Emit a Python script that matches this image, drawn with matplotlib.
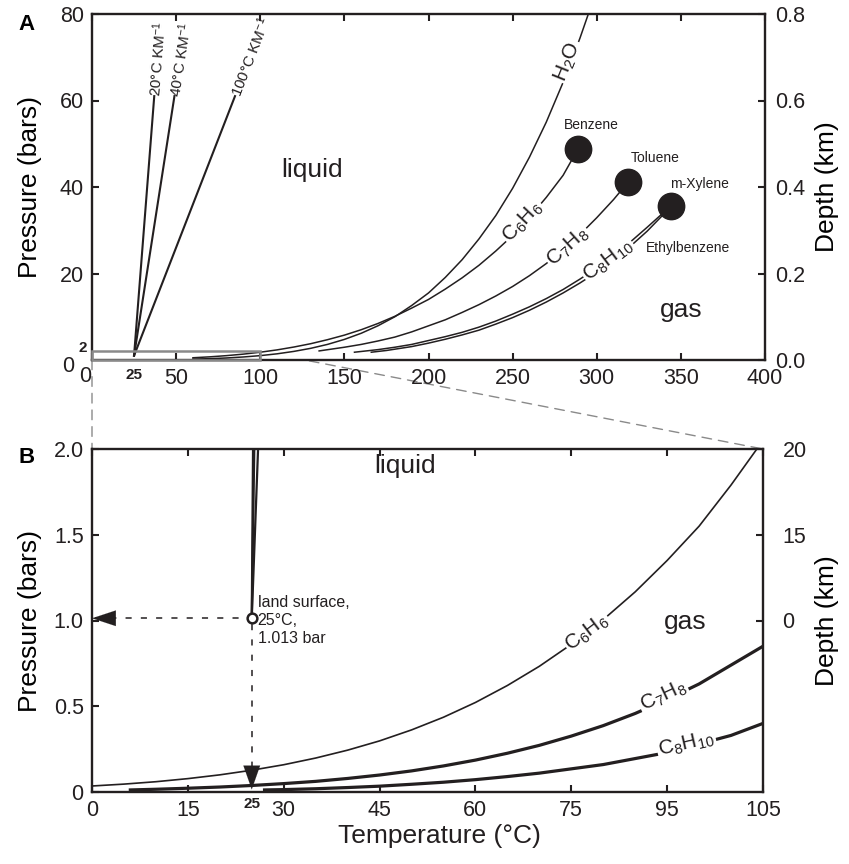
import matplotlib
matplotlib.use("Agg")
import matplotlib.pyplot as plt
from matplotlib.patches import Rectangle, ConnectionPatch
import numpy as np

plt.rcParams['font.family'] = ['Liberation Sans', 'DejaVu Sans']
plt.rcParams['mathtext.fontset'] = 'custom'
plt.rcParams['mathtext.rm'] = 'Liberation Sans'
plt.rcParams['mathtext.it'] = 'Liberation Sans:italic'
plt.rcParams['mathtext.default'] = 'regular'

INK = '#231f20'
GREY = '#8a8a8a'

# ---------------- vapour-pressure curves, full range (deg C, bar) ----------------
h2o_T = [60, 70, 80, 90, 100, 110, 120, 130, 140, 150, 160, 170, 180, 190, 200,
         210, 220, 230, 240, 250, 260, 270, 280, 290, 295]
h2o_P = [0.20, 0.31, 0.47, 0.70, 1.01, 1.43, 1.99, 2.70, 3.61, 4.76, 6.18, 7.92,
         10.0, 12.6, 15.5, 19.1, 23.2, 28.0, 33.4, 39.7, 46.9, 55.0, 64.2, 74.4, 80.0]

benz_T = [60, 70, 80, 90, 100, 110, 120, 130, 140, 150, 160, 170, 180, 190, 200,
          210, 220, 230, 240, 250, 260, 270, 280, 289]
benz_P = [0.52, 0.73, 1.01, 1.36, 1.80, 2.34, 3.0, 3.77, 4.7, 5.75, 7.0, 8.45,
          10.1, 12.0, 14.0, 16.4, 19.0, 21.9, 25.2, 28.8, 33.0, 37.6, 42.7, 48.9]

tol_T = [135, 150, 160, 170, 180, 190, 200, 210, 220, 230, 240, 250, 260, 270,
         280, 290, 300, 310, 318.6]
tol_P = [2.1, 2.95, 3.6, 4.4, 5.3, 6.5, 7.9, 9.3, 11.0, 12.8, 14.8, 17.0, 19.5,
         22.3, 25.4, 29.0, 32.9, 37.1, 41.1]

ebenz_T = [156, 170, 180, 190, 200, 210, 220, 230, 240, 250, 260, 270, 280, 290,
           300, 310, 320, 330, 344]
ebenz_P = [1.8, 2.4, 2.95, 3.6, 4.5, 5.4, 6.4, 7.6, 9.0, 10.6, 12.3, 14.2, 16.3,
           18.7, 21.3, 24.2, 27.3, 30.7, 35.6]

mxyl_T = [166, 175, 180, 190, 200, 210, 220, 230, 240, 250, 260, 270, 280, 290,
          300, 310, 320, 330, 344]
mxyl_P = [1.8, 2.2, 2.5, 3.1, 3.9, 4.8, 5.8, 6.9, 8.3, 9.8, 11.5, 13.4, 15.5,
          17.8, 20.3, 23.1, 26.3, 29.8, 35.4]

# critical points
crit_names = ['Benzene', 'Toluene', 'm-Xylene']
crit_T = [289, 318.6, 344]
crit_P = [48.9, 41.1, 35.5]

# geothermal gradients (deg C per km) starting from the land surface
geo_rates = [20, 40, 100]
geo_labels = [r'20°C KM$^{-1}$', r'40°C KM$^{-1}$', r'100°C KM$^{-1}$']
surf_T = 25
surf_P = 1.013
geo_top_depth_km = 0.6       # depth reached in panel A
geo_top_depth_B_km = 0.01    # depth reached in panel B

# ---------------- low-temperature detail (deg C, bar) ----------------
b_benz_T = [0, 5, 10, 15, 20, 25, 30, 35, 40, 45, 50, 55, 60, 65, 70, 75, 80,
            85, 90, 95, 100, 105]
b_benz_P = [0.035, 0.046, 0.060, 0.078, 0.100, 0.127, 0.159, 0.198, 0.244, 0.298,
            0.362, 0.436, 0.522, 0.621, 0.733, 0.861, 1.005, 1.167, 1.35, 1.55,
            1.79, 2.05]

b_tol_T = [6, 10, 15, 20, 25, 30, 35, 40, 45, 50, 55, 60, 65, 70, 75, 80, 85, 90,
           95, 100, 105]
b_tol_P = [0.012, 0.016, 0.022, 0.029, 0.038, 0.049, 0.062, 0.079, 0.099, 0.123,
           0.152, 0.186, 0.226, 0.272, 0.326, 0.387, 0.458, 0.54, 0.63, 0.74, 0.85]

b_xyl_T = [27, 30, 35, 40, 45, 50, 55, 60, 65, 70, 75, 80, 85, 90, 95, 100, 105]
b_xyl_P = [0.012, 0.014, 0.019, 0.026, 0.034, 0.045, 0.057, 0.072, 0.090, 0.11,
           0.135, 0.16, 0.195, 0.23, 0.28, 0.33, 0.40]

# axis ticks
a_xticks = [0, 50, 100, 150, 200, 250, 300, 350, 400]
a_yticks = [20, 40, 60, 80]
a_depth_ticks = [0.0, 0.2, 0.4, 0.6, 0.8]
b_xticks = [0, 15, 30, 45, 60, 75, 90, 105]
b_xticklabels = ['0', '15', '30', '45', '60', '75', '95', '105']
b_yticks = [0, 0.5, 1.0, 1.5, 2.0]
b_yticklabels = ['0', '0.5', '1.0', '1.5', '2.0']
b_depth_ticks = [1.0, 1.5, 2.0]
b_depth_labels = ['0', '15', '20']

TICK_FS = 15.5
LABEL_FS = 19

fig = plt.figure(figsize=(8.49, 8.64), dpi=100)
W, H = 849, 864


def px_axes(left, top, right, bottom):
    return [left / W, 1 - bottom / H, (right - left) / W, (bottom - top) / H]


ax1 = fig.add_axes(px_axes(92, 14, 765, 360))
ax2 = fig.add_axes(px_axes(92, 449, 763, 792))


def style_axes(ax):
    for s in ax.spines.values():
        s.set_linewidth(1.7)
        s.set_color(INK)
    ax.tick_params(direction='in', length=5, width=1.5, labelsize=TICK_FS,
                   colors=INK, pad=6, top=True)


# ================= panel A =================
style_axes(ax1)
ax1.set_xlim(0, 400)
ax1.set_ylim(0, 80)
ax1.set_xticks(a_xticks)
ax1.set_xticklabels(['' if t == 0 else str(t) for t in a_xticks])
ax1.set_yticks(a_yticks)
ax1.set_ylabel('Pressure (bars)', fontsize=LABEL_FS)
ax1.yaxis.set_label_coords(-0.074, 0.5)

lw_thin = 1.1
ax1.plot(h2o_T, h2o_P, color=INK, lw=lw_thin)
ax1.plot(benz_T, benz_P, color=INK, lw=lw_thin)
ax1.plot(tol_T, tol_P, color=INK, lw=lw_thin)
ax1.plot(ebenz_T, ebenz_P, color=INK, lw=lw_thin)
ax1.plot(mxyl_T, mxyl_P, color=INK, lw=lw_thin)
ax1.plot(crit_T, crit_P, 'o', color=INK, ms=19, zorder=6)

for rate, lab in zip(geo_rates, geo_labels):
    t_end = surf_T + rate * geo_top_depth_km
    p_end = surf_P + geo_top_depth_km * 100
    ax1.plot([surf_T, t_end], [surf_P, p_end], color=INK, lw=1.5)
    dx = (t_end - surf_T) * 673 / 400
    dy = (p_end - surf_P) * 346 / 80
    ang = np.degrees(np.arctan2(dy, dx))
    ax1.text(t_end, p_end, lab, rotation=ang, rotation_mode='anchor',
             ha='left', va='center', fontsize=11, color=INK)

bbox_w = dict(facecolor='white', edgecolor='none', pad=1.0)
ax1.text(283, 69, r'H$_2$O', rotation=68, ha='center', va='center',
         fontsize=15, color=INK, bbox=bbox_w, zorder=5)
ax1.text(256, 32, r'C$_6$H$_6$', rotation=47, ha='center', va='center',
         fontsize=15, color=INK, bbox=bbox_w, zorder=5)
ax1.text(283, 26.2, r'C$_7$H$_8$', rotation=42, ha='center', va='center',
         fontsize=15, color=INK, bbox=bbox_w, zorder=5)
ax1.text(307, 23.0, r'C$_8$H$_{10}$', rotation=37, ha='center', va='center',
         fontsize=15, color=INK, bbox=bbox_w, zorder=5)

ax1.text(131, 44, 'liquid', fontsize=LABEL_FS, ha='center', va='center', color=INK)
ax1.text(350, 11.6, 'gas', fontsize=LABEL_FS, ha='center', va='center', color=INK)

name_pos = {'Benzene': (297, 54.3), 'Toluene': (335, 46.6), 'm-Xylene': (361, 40.8)}
for n in crit_names:
    ax1.text(*name_pos[n], n, fontsize=10, ha='center', va='center', color=INK)
ax1.text(354, 25.8, 'Ethylbenzene', fontsize=10, ha='center', va='center', color=INK)

ax1.add_patch(Rectangle((0, 0), 100, 2, fill=False, edgecolor=GREY, lw=1.8,
                        clip_on=False, zorder=7))

# reference labels on panel A axes
fig.text(68 / W, 1 - 366 / H, '0', fontsize=TICK_FS, ha='center', va='center', color=INK)
fig.text(83 / W, 1 - 348 / H, '2', fontsize=11, fontweight='bold', ha='center', va='center', color=INK)
fig.text(85 / W, 1 - 377 / H, '0', fontsize=TICK_FS, ha='center', va='center', color=INK)
ax1.annotate('25', xy=(25, 0), xycoords='data', xytext=(0, -11),
             textcoords='offset points', ha='center', va='center',
             fontsize=11, fontweight='bold', color=INK, annotation_clip=False)

ax1r = ax1.twinx()
ax1r.set_ylim(0, 0.8)
ax1r.set_yticks(a_depth_ticks)
ax1r.set_yticklabels([f'{v:.1f}' for v in a_depth_ticks])
for s in ax1r.spines.values():
    s.set_visible(False)
ax1r.tick_params(direction='in', length=5, width=1.5, labelsize=TICK_FS,
                 colors=INK, pad=7)
ax1r.set_ylabel('Depth (km)', fontsize=LABEL_FS)
ax1r.yaxis.set_label_coords(1.074, 0.5)

# ================= panel B =================
style_axes(ax2)
ax2.set_xlim(0, 105)
ax2.set_ylim(0, 2.0)
ax2.set_xticks(b_xticks)
ax2.set_xticklabels(b_xticklabels)
ax2.set_yticks(b_yticks)
ax2.set_yticklabels(b_yticklabels)
ax2.set_ylabel('Pressure (bars)', fontsize=LABEL_FS)
ax2.yaxis.set_label_coords(-0.074, 0.5)

ax2.plot(b_benz_T, b_benz_P, color=INK, lw=1.2)
ax2.plot(b_tol_T, b_tol_P, color=INK, lw=2.3)
ax2.plot(b_xyl_T, b_xyl_P, color=INK, lw=2.3)

for rate in geo_rates:
    t_end = surf_T + rate * geo_top_depth_B_km
    p_end = surf_P + geo_top_depth_B_km * 100
    ax2.plot([surf_T, t_end], [surf_P, p_end], color=INK, lw=1.6)

ax2.text(77.5, 0.93, r'C$_6$H$_6$', rotation=37, ha='center', va='center',
         fontsize=15, color=INK, bbox=bbox_w, zorder=5)
ax2.text(89.4, 0.56, r'C$_7$H$_8$', rotation=25, ha='center', va='center',
         fontsize=15, color=INK, bbox=bbox_w, zorder=5)
ax2.text(93, 0.28, r'C$_8$H$_{10}$', rotation=13, ha='center', va='center',
         fontsize=15, color=INK, bbox=bbox_w, zorder=5)
ax2.text(49, 1.9, 'liquid', fontsize=LABEL_FS, ha='center', va='center', color=INK)
ax2.text(92.8, 0.99, 'gas', fontsize=LABEL_FS, ha='center', va='center', color=INK)

# land surface point with projections onto both axes
dash = (0, (4, 6))
ax2.plot([0.5, surf_T], [surf_P, surf_P], color=INK, lw=1.1, linestyle=dash)
ax2.plot([surf_T, surf_T], [0.05, surf_P], color=INK, lw=1.1, linestyle=dash)
ax2.annotate('', xy=(0, surf_P), xytext=(3.7, surf_P),
             arrowprops=dict(arrowstyle='-|>,head_length=0.85,head_width=0.28',
                             mutation_scale=20, color=INK, lw=0.1,
                             shrinkA=0, shrinkB=0), annotation_clip=False)
ax2.annotate('', xy=(surf_T, 0.015), xytext=(surf_T, 0.145),
             arrowprops=dict(arrowstyle='-|>,head_length=0.85,head_width=0.3',
                             mutation_scale=20, color=INK, lw=0.1,
                             shrinkA=0, shrinkB=0), annotation_clip=False)
ax2.plot([surf_T], [surf_P], 'o', ms=7, mfc='white', mec=INK, mew=1.8, zorder=8)
ax2.text(25.9, 1.0, 'land surface,\n25°C,\n1.013 bar', fontsize=11.5,
         ha='left', va='center', linespacing=1.25, color=INK)

ax2.annotate('25', xy=(25, 0), xycoords='data', xytext=(0, -9),
             textcoords='offset points', ha='center', va='center',
             fontsize=11, fontweight='bold', color=INK, annotation_clip=False)

ax2r = ax2.twinx()
ax2r.set_ylim(0, 2.0)
ax2r.set_yticks(b_depth_ticks)
ax2r.set_yticklabels(b_depth_labels)
for s in ax2r.spines.values():
    s.set_visible(False)
ax2r.tick_params(direction='in', length=5, width=1.5, labelsize=TICK_FS,
                 colors=INK, pad=14)
ax2r.set_ylabel('Depth (km)', fontsize=LABEL_FS)
ax2r.yaxis.set_label_coords(1.077, 0.5)

fig.text(439 / W, 1 - 836 / H, 'Temperature (°C)', fontsize=LABEL_FS,
         ha='center', va='center', color=INK)

# zoom guides between the panels
for a_pt, b_pt in [((0, 0), (0, 2.0)), ((100, 2), (105, 2.0))]:
    cp = ConnectionPatch(xyA=a_pt, coordsA=ax1.transData, xyB=b_pt,
                         coordsB=ax2.transData, color=GREY, lw=1.0,
                         linestyle=(0, (7, 5)), zorder=0)
    fig.add_artist(cp)

fig.text(27 / W, 1 - 24 / H, 'A', fontsize=16, fontweight='bold', ha='center', va='center')
fig.text(27 / W, 1 - 457 / H, 'B', fontsize=16, fontweight='bold', ha='center', va='center')

fig.savefig('out.png', dpi=100)
